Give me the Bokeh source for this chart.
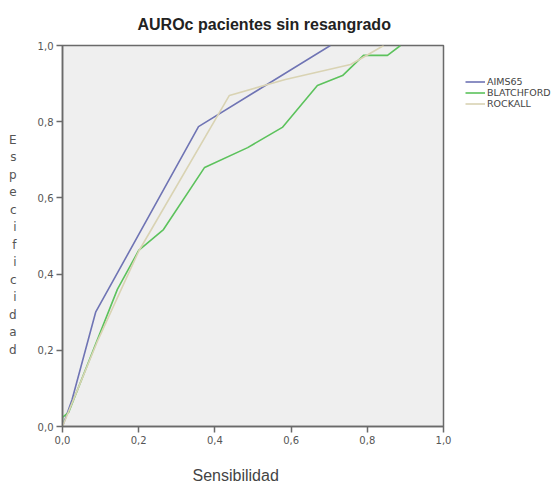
from bokeh.plotting import figure
from bokeh.models import Range1d, FixedTicker, Legend, LegendItem, Title
from bokeh.embed import file_html
from bokeh.resources import INLINE

# ---- data ----
aims65_x = [0.0, 0.025, 0.087, 0.357, 0.703]
aims65_y = [0.0, 0.07, 0.30, 0.787, 1.0]

blatchford_x = [0.0, 0.0, 0.016, 0.144, 0.200, 0.265, 0.373, 0.486, 0.577, 0.669, 0.735, 0.790, 0.853, 0.887]
blatchford_y = [0.0, 0.024, 0.037, 0.360, 0.462, 0.517, 0.680, 0.732, 0.785, 0.895, 0.921, 0.974, 0.974, 1.0]

rockall_x = [0.0, 0.09, 0.200, 0.438, 0.585, 0.756, 0.800, 0.843]
rockall_y = [0.0, 0.22, 0.460, 0.869, 0.911, 0.950, 0.975, 1.0]

series_names = ["AIMS65", "BLATCHFORD", "ROCKALL"]
series_colors = ["#6f74b4", "#5cc25c", "#d9d3b3"]

tick_values = [0.0, 0.2, 0.4, 0.6, 0.8, 1.0]
tick_labels = ["0,0", "0,2", "0,4", "0,6", "0,8", "1,0"]

title_text = "AUROc pacientes sin resangrado"
x_title = "Sensibilidad"
y_title = "Especificidad"

# ---- figure ----
p = figure(width=558, height=483, output_backend="svg", toolbar_location=None,
           x_range=Range1d(0, 1), y_range=Range1d(0, 1),
           frame_width=381, frame_height=381,
           min_border_left=62, min_border_right=115, min_border_top=45, min_border_bottom=57)

p.background_fill_color = "#efefef"
p.border_fill_color = "white"
p.outline_line_color = "#6a6a6a"
p.outline_line_width = 1.5
p.xgrid.visible = False
p.ygrid.visible = False

p.title.text = title_text
p.title.align = "left"
p.title.offset = 75
p.title.text_font = "Liberation Sans"
p.title.text_font_size = "16px"
p.title.text_font_style = "bold"
p.title.text_color = "#222222"
p.title.standoff = 26

for ax in (p.xaxis[0], p.yaxis[0]):
    ax.ticker = FixedTicker(ticks=tick_values)
    ax.major_label_overrides = dict(zip(tick_values, tick_labels))
    ax.axis_line_color = "#6a6a6a"
    ax.axis_line_width = 1.5
    ax.major_tick_line_color = "#6a6a6a"
    ax.major_tick_line_width = 1.5
    ax.major_tick_out = 6
    ax.major_tick_in = 0
    ax.minor_tick_out = 0
    ax.minor_tick_in = 0
    ax.major_label_text_font = "DejaVu Sans"
    ax.major_label_text_font_size = "10px"
    ax.major_label_text_color = "#555555"
    ax.major_label_standoff = 3

# stacked vertical letters for y title
p.yaxis[0].axis_label = " \n" + "\n".join(list(y_title))
p.yaxis[0].axis_label_orientation = "horizontal"
p.yaxis[0].axis_label_text_font = "DejaVu Sans"
p.yaxis[0].axis_label_text_font_size = "12px"
p.yaxis[0].axis_label_text_font_style = "normal"
p.yaxis[0].axis_label_text_color = "#555555"
p.yaxis[0].axis_label_text_line_height = 1.25
p.yaxis[0].axis_label_standoff = 18

p.add_layout(Title(text=x_title, align="left", offset=130, standoff=36,
                   text_font="Liberation Sans", text_font_size="16px",
                   text_font_style="normal", text_color="#444444"), "below")

series = [(aims65_x, aims65_y), (blatchford_x, blatchford_y), (rockall_x, rockall_y)]
items = []
for (xs, ys), name, col in zip(series, series_names, series_colors):
    r = p.line(xs, ys, line_color=col, line_width=1.6)
    items.append(LegendItem(label=name, renderers=[r]))

legend = Legend(items=items, location=(22, 317), padding=0, margin=0, spacing=0,
                glyph_width=20, glyph_height=9, label_height=9, label_standoff=2,
                label_text_font="DejaVu Sans", label_text_font_size="9.5px",
                label_text_color="#444444", border_line_alpha=0,
                background_fill_alpha=0)
p.add_layout(legend, "right")

open("out.html", "w").write(file_html(p, INLINE))
